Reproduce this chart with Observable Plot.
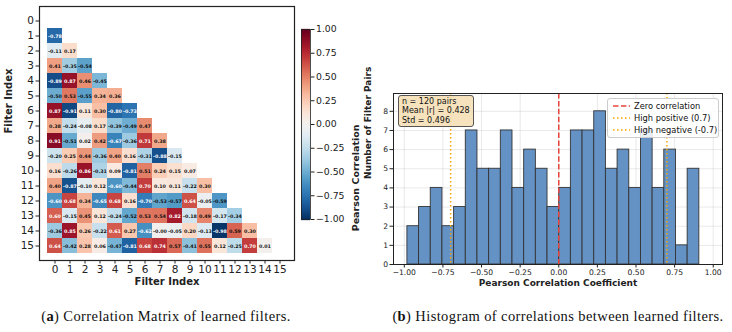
<!DOCTYPE html>
<html>
<head>
<meta charset="utf-8">
<script src="https://cdn.jsdelivr.net/npm/d3@7"></script>
<script src="https://cdn.jsdelivr.net/npm/@observablehq/plot@0.6"></script>
<style>
  body { margin: 0; background: #fff; }
  #fig { position: relative; width: 732px; height: 332px; background: #fff; overflow: hidden; font-family: "DejaVu Sans", sans-serif; }
  #fig > svg, #fig > div { position: absolute; }
  .cap { font-family: "Liberation Serif", serif; font-size: 14.5px; letter-spacing: 0.4px; line-height: 16px; color: #111; white-space: nowrap; }
  #stats { background: rgba(245, 222, 179, 0.85); border: 1px solid #555; border-radius: 3px; font-size: 8px; line-height: 9.4px; padding: 1px 3px 1px 3px; color: #111; white-space: nowrap; }
  #legend { background: rgba(255, 255, 255, 0.85); border: 1px solid #ccc; border-radius: 3px; font-size: 8.3px; color: #111; box-sizing: border-box; white-space: nowrap; }
  #legend .row { position: absolute; left: 0; height: 12px; display: flex; align-items: center; }
  #legend svg { margin: 0 4px 0 5px; }
</style>
</head>
<body>
<div id="fig"></div>
<script>
// Filter indices (axis tick labels)
const filterIndex = [0, 1, 2, 3, 4, 5, 6, 7, 8, 9, 10, 11, 12, 13, 14, 15];

// Lower triangle of the filter correlation matrix: row i holds r(i, 0..i-1)
const corrRows = [
  [],
  [-0.78],
  [-0.11, 0.17],
  [0.41, -0.35, -0.54],
  [-0.89, 0.87, 0.46, -0.45],
  [-0.50, 0.53, -0.55, 0.34, 0.36],
  [0.87, -0.91, 0.11, 0.30, -0.80, -0.73],
  [0.38, -0.24, -0.08, 0.17, -0.39, -0.49, 0.47],
  [0.91, -0.51, 0.02, 0.42, -0.67, -0.36, 0.71, 0.38],
  [-0.20, 0.25, 0.44, -0.36, 0.40, 0.16, -0.31, -0.88, -0.15],
  [0.16, -0.26, 0.86, -0.31, 0.09, -0.81, 0.51, 0.24, 0.15, 0.07],
  [0.40, -0.87, -0.10, 0.12, -0.60, -0.44, 0.70, 0.10, 0.11, -0.22, 0.30],
  [-0.60, 0.68, 0.34, -0.65, 0.68, 0.16, -0.70, -0.53, -0.57, 0.64, -0.05, -0.59],
  [0.60, -0.15, 0.45, 0.12, -0.24, -0.52, 0.53, 0.54, 0.82, -0.18, 0.49, -0.17, -0.34],
  [-0.36, 0.85, 0.26, -0.22, 0.61, 0.27, -0.62, -0.004, -0.05, 0.20, -0.13, -0.98, 0.59, 0.30],
  [0.64, -0.42, 0.28, 0.06, -0.47, -0.81, 0.68, 0.74, 0.57, -0.41, 0.55, 0.12, -0.25, 0.70, 0.01]
];

// Colorbar ticks
const colorTicks = [-1, -0.75, -0.5, -0.25, 0, 0.25, 0.5, 0.75, 1];

// Histogram of the 120 pairwise correlations (25 equal-width bins)
const binCount = 25;
const histCounts = [2, 3, 4, 2, 3, 7, 5, 5, 7, 4, 6, 5, 3, 4, 7, 7, 8, 5, 6, 4, 7, 4, 6, 1, 5];
const histXTicks = [-1, -0.75, -0.5, -0.25, 0, 0.25, 0.5, 0.75, 1];
const histYTicks = [0, 1, 2, 3, 4, 5, 6, 7, 8];
const zeroLine = [0];
const highLines = [-0.7, 0.7];

// Summary statistics box
const statsLines = ["n = 120 pairs", "Mean |r| = 0.428", "Std = 0.496"];

// Legend entries
const legendEntries = [
  { label: "Zero correlation", color: "#e8453c", dash: "5.5,2.4" },
  { label: "High positive (0.7)", color: "#ffa500", dash: "1.5,2.5" },
  { label: "High negative (-0.7)", color: "#ffa500", dash: "1.5,2.5" }
];

// ---------------------------------------------------------------------------
const cells = [];
corrRows.forEach((row, i) => row.forEach((r, j) => cells.push({ row: i, col: j, r })));
const allR = cells.map(d => d.r);

const colorSpec = { type: "linear", scheme: "RdBu", reverse: true, domain: [-1, 1] };
const fig = document.getElementById("fig");
const font = "DejaVu Sans";

// (a) correlation matrix heatmap
const heat = Plot.plot({
  width: 300, height: 300,
  marginTop: 6, marginRight: 6, marginBottom: 40, marginLeft: 39,
  style: { fontFamily: font, background: "transparent", color: "#222" },
  x: { type: "band", domain: filterIndex, padding: 0 },
  y: { type: "band", domain: filterIndex, padding: 0 },
  color: colorSpec,
  marks: [
    Plot.cell(cells, { x: "col", y: "row", fill: "r" }),
    Plot.text(cells, { filter: d => Math.abs(d.r) >= 0.6, x: "col", y: "row", text: d => d.r.toFixed(2), fill: "white", fontSize: 4.8, fontWeight: "bold" }),
    Plot.text(cells, { filter: d => Math.abs(d.r) < 0.6, x: "col", y: "row", text: d => d.r.toFixed(2), fill: "#111", fontSize: 4.8, fontWeight: "bold" }),
    Plot.frame({ stroke: "#222", strokeWidth: 1.2 }),
    Plot.axisX({ tickSize: 3.5, tickPadding: 2, fontSize: 10.5, label: null }),
    Plot.axisY({ tickSize: 3.5, tickPadding: 2, fontSize: 10.5, label: null }),
    Plot.text(["Filter Index"], { text: d => d, frameAnchor: "bottom", dy: 24, fontWeight: "bold", fontSize: 10 }),
    Plot.text(["Filter Index"], { text: d => d, frameAnchor: "left", rotate: -90, dx: -31, fontWeight: "bold", fontSize: 10 })
  ]
});
heat.style.left = "0px"; heat.style.top = "0px";
fig.appendChild(heat);

// colorbar
const cbStops = d3.range(-1, 1.0001, 0.005);
const cbar = Plot.plot({
  width: 75, height: 240,
  marginTop: 29, marginBottom: 21, marginLeft: 6, marginRight: 60,
  style: { fontFamily: font, background: "transparent", color: "#222" },
  y: { domain: [-1, 1] },
  color: colorSpec,
  marks: [
    Plot.ruleY(cbStops, { y: d => d, stroke: d => d, strokeWidth: 1.3 }),
    Plot.frame({ stroke: "#222", strokeWidth: 0.8 }),
    Plot.axisY({ anchor: "right", ticks: colorTicks, tickFormat: d3.format(".2f"), tickSize: 3.5, tickPadding: 2, fontSize: 9.3, label: null }),
    Plot.text(["Pearson Correlation"], { text: d => d, frameAnchor: "right", rotate: -90, dx: 45, fontWeight: "bold", fontSize: 9.5 })
  ]
});
cbar.style.left = "295px"; cbar.style.top = "0px";
fig.appendChild(cbar);

// (b) histogram of correlations
const lo = d3.min(allR), hi = d3.max(allR), w = (hi - lo) / binCount;
const bins = histCounts.map((count, k) => ({ x0: lo + k * w, x1: lo + (k + 1) * w, count }));

const hist = Plot.plot({
  width: 370, height: 300,
  marginTop: 93, marginRight: 10, marginBottom: 36, marginLeft: 31,
  style: { fontFamily: font, background: "transparent", color: "#222" },
  x: { domain: [-1.07, 1.06] },
  y: { domain: [0, 8.93] },
  marks: [
    Plot.gridX(histXTicks, { stroke: "#b0b0b0", strokeOpacity: 0.35, strokeWidth: 0.8 }),
    Plot.gridY(histYTicks, { stroke: "#b0b0b0", strokeOpacity: 0.35, strokeWidth: 0.8 }),
    Plot.rectY(bins, { x1: "x0", x2: "x1", y: "count", fill: "#6592c5", stroke: "#333", strokeWidth: 0.9 }),
    Plot.ruleX(zeroLine, { stroke: "#e8453c", strokeWidth: 1.5, strokeDasharray: "5.5,2.4" }),
    Plot.ruleX(highLines, { stroke: "#ffa500", strokeWidth: 1.5, strokeDasharray: "1.5,2.5" }),
    Plot.frame({ stroke: "#222", strokeWidth: 1 }),
    Plot.axisX({ ticks: histXTicks, tickFormat: d3.format(".2f"), tickSize: 3.5, tickPadding: 2, fontSize: 7.6, label: null }),
    Plot.axisY({ ticks: histYTicks, tickSize: 3.5, tickPadding: 2, fontSize: 7.6, label: null }),
    Plot.text(["Pearson Correlation Coefficient"], { text: d => d, frameAnchor: "bottom", dy: 21, fontWeight: "bold", fontSize: 9 }),
    Plot.text(["Number of Filter Pairs"], { text: d => d, frameAnchor: "left", rotate: -90, dx: -25, fontWeight: "bold", fontSize: 9 })
  ]
});
hist.style.left = "362px"; hist.style.top = "0px";
fig.appendChild(hist);

// statistics box
const stats = document.createElement("div");
stats.id = "stats";
Object.assign(stats.style, { left: "398px", top: "95px" });
stats.innerHTML = statsLines.map(s => `<div>${s}</div>`).join("");
fig.appendChild(stats);

// legend
const legend = document.createElement("div");
legend.id = "legend";
Object.assign(legend.style, { left: "607px", top: "98px", width: "112px", height: "40px" });
legendEntries.forEach((e, k) => {
  const row = document.createElement("div");
  row.className = "row";
  row.style.top = (1 + k * 12) + "px";
  row.innerHTML = `<svg width="17" height="6"><line x1="0" y1="3" x2="17" y2="3" stroke="${e.color}" stroke-width="1.5" stroke-dasharray="${e.dash}"/></svg><span>${e.label}</span>`;
  legend.appendChild(row);
});
fig.appendChild(legend);

// captions
const capA = document.createElement("div");
capA.className = "cap";
Object.assign(capA.style, { left: "166px", top: "308px", transform: "translateX(-50%)" });
capA.innerHTML = "(<b>a</b>) Correlation Matrix of learned filters.";
fig.appendChild(capA);

const capB = document.createElement("div");
capB.className = "cap";
Object.assign(capB.style, { left: "558px", top: "308px", transform: "translateX(-50%)" });
capB.innerHTML = "(<b>b</b>) Histogram of correlations between learned filters.";
fig.appendChild(capB);
</script>
</body>
</html>
